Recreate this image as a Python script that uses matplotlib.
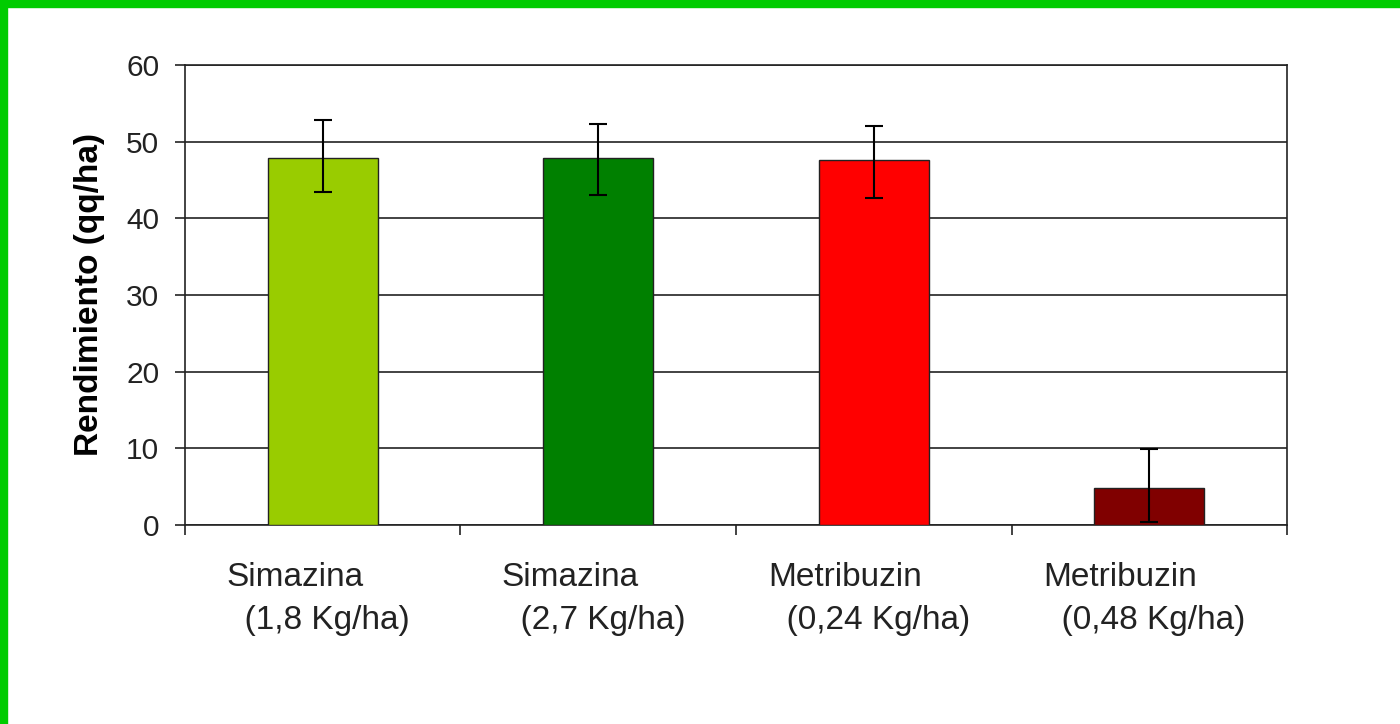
import numpy as np
import matplotlib.pyplot as plt
from matplotlib.patches import Rectangle

# values
categories = ["Simazina\n  (1,8 Kg/ha) ", "Simazina\n  (2,7 Kg/ha) ",
              "Metribuzin\n  (0,24 Kg/ha) ", "Metribuzin\n  (0,48 Kg/ha) "]
rendimiento = [47.9, 47.9, 47.6, 4.8]
err_low = [4.4, 4.9, 5.0, 4.4]
err_high = [4.9, 4.4, 4.4, 5.1]
bar_colors = ["#99CC00", "#008000", "#FF0000", "#800000"]
yticks = [0, 10, 20, 30, 40, 50, 60]

plt.rcParams['font.family'] = ['Liberation Sans', 'DejaVu Sans']

fig = plt.figure(figsize=(14, 7.24), dpi=100)
ax = fig.add_axes([0.1321, 0.2749, 0.7872, 0.6353])

x = np.arange(len(categories))
ax.bar(x, rendimiento, width=0.4, color=bar_colors, edgecolor="#222222",
       linewidth=1.0, zorder=3)
ax.errorbar(x, rendimiento, yerr=[err_low, err_high], fmt='none',
            ecolor='black', elinewidth=1.5, capsize=6.5, capthick=1.5, zorder=4)

ax.set_xlim(-0.5, len(categories) - 0.5)
ax.set_ylim(0, 60)
ax.set_yticks(yticks)
ax.set_xticks(x)
ax.set_xticklabels(categories, multialignment='left')
ax.set_xticks(np.arange(len(categories) + 1) - 0.5, minor=True)

ax.tick_params(axis='x', which='major', length=0, pad=27, labelsize=24,
               colors='#222222')
ax.tick_params(axis='x', which='minor', length=7.5, width=1.2, direction='out',
               color='#222222')
ax.tick_params(axis='y', length=7.5, width=1.2, direction='out', pad=11,
               labelsize=21.5, colors='#222222')
for lbl in ax.get_xticklabels():
    lbl.set_linespacing(1.5)

ax.yaxis.grid(True, color='#222222', linewidth=1.2, zorder=0)
ax.set_axisbelow(True)
for s in ax.spines.values():
    s.set_color('#222222')
    s.set_linewidth(1.2)

ax.set_ylabel("Rendimiento (qq/ha)", fontsize=24, fontweight='bold', labelpad=15)

# green frame on top and left edges
fig.add_artist(Rectangle((0, 1 - 7 / 724), 1, 7 / 724, transform=fig.transFigure,
                         color='#00CC00', zorder=10))
fig.add_artist(Rectangle((0, 0), 7 / 1400, 1, transform=fig.transFigure,
                         color='#00CC00', zorder=10))

fig.savefig("out.png", dpi=100)
